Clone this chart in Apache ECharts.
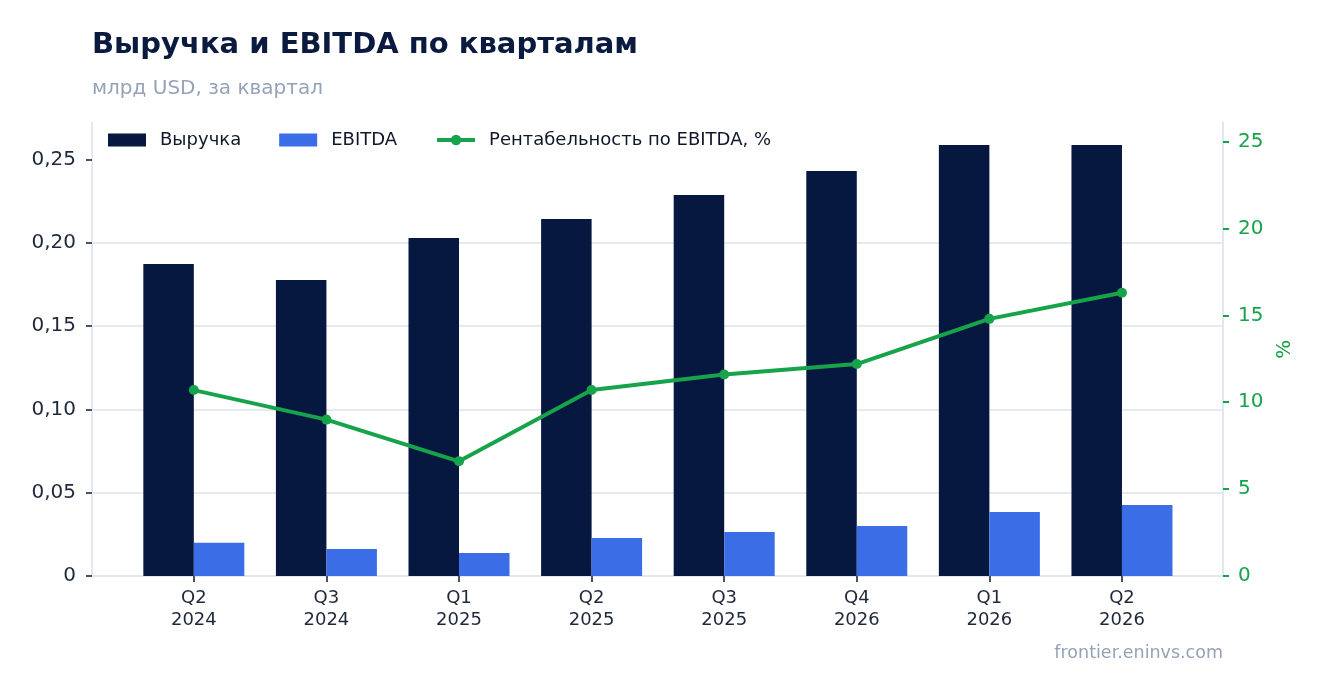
<!DOCTYPE html>
<html><head><meta charset="utf-8">
<script src="https://cdn.jsdelivr.net/npm/echarts@6/dist/echarts.min.js"></script>
<style>html,body{margin:0;padding:0;background:#fff}#c{width:1323px;height:693px}</style>
</head><body><div id="c"></div>
<script>
const categories = ['Q2\n2024','Q3\n2024','Q1\n2025','Q2\n2025','Q3\n2025','Q4\n2026','Q1\n2026','Q2\n2026'];
const revenue = [0.1873, 0.1777, 0.2029, 0.2143, 0.2287, 0.2431, 0.2587, 0.2587];
const ebitda = [0.0200, 0.0162, 0.0138, 0.0228, 0.0264, 0.0300, 0.0384, 0.0426];
const margin = [10.7, 9.0, 6.6, 10.7, 11.6, 12.2, 14.8, 16.3];
const leftTicks = [0, 0.05, 0.10, 0.15, 0.20, 0.25];
const rightTicks = [0, 5, 10, 15, 20, 25];

const FONT = 'DejaVu Sans';
const idx = categories.map((_, i) => i);
const pair = arr => arr.map((v, i) => [i, v]);
const chart = echarts.init(document.getElementById('c'), null, {renderer: 'canvas'});
chart.setOption({
  animation: false,
  textStyle: {fontFamily: FONT},
  title: {
    text: 'Выручка и EBITDA по кварталам',
    subtext: 'млрд USD, за квартал',
    left: 87, top: 26, itemGap: 19,
    textStyle: {fontFamily: FONT, fontSize: 29, fontWeight: 'bold', color: '#0b1a3f'},
    subtextStyle: {fontFamily: FONT, fontSize: 20, color: '#94a3b8'}
  },
  legend: {
    left: 103, top: 126, itemWidth: 38, itemHeight: 13, itemGap: 38,
    textStyle: {fontFamily: FONT, fontSize: 18, color: '#0f172a', padding: [0, 0, 0, 9]},
    data: [
      {name: 'Выручка', icon: 'rect'},
      {name: 'EBITDA', icon: 'rect'},
      {name: 'Рентабельность по EBITDA, %', lineStyle: {width: 4}}
    ]
  },
  grid: {left: 92, right: 100, top: 122.5, bottom: 117, containLabel: false},
  xAxis: {
    type: 'value', min: -0.768, max: 7.762,
    splitLine: {show: false},
    axisLine: {show: true, onZero: false, lineStyle: {color: '#e2e8f0', width: 2}},
    axisTick: {show: true, customValues: idx, length: 6, lineStyle: {color: '#475569', width: 2}},
    axisLabel: {customValues: idx, formatter: v => categories[Math.round(v)] || '',
      fontFamily: FONT, fontSize: 18, lineHeight: 22, color: '#1e293b', margin: 11}
  },
  yAxis: [{
    type: 'value', min: 0, max: 0.2722, interval: 0.05,
    axisLine: {show: true, onZero: false, lineStyle: {color: '#e2e8f0', width: 2}},
    axisTick: {show: true, customValues: leftTicks, length: 6, lineStyle: {color: '#475569', width: 2}},
    axisLabel: {customValues: leftTicks, fontFamily: FONT, fontSize: 20, color: '#1e293b', margin: 16,
      formatter: v => v === 0 ? '0' : v.toFixed(2).replace('.', ',')},
    splitLine: {show: true, showMaxLine: false, showMinLine: false, lineStyle: {color: '#e5e9f0', width: 2}}
  }, {
    type: 'value', min: 0, max: 26.1, interval: 5, position: 'right',
    name: '%', nameLocation: 'middle', nameGap: 50, nameRotate: 90,
    nameTextStyle: {fontFamily: FONT, fontSize: 20, color: '#16a34a'},
    axisLine: {show: true, onZero: false, lineStyle: {color: '#e2e8f0', width: 2}},
    axisTick: {show: true, customValues: rightTicks, length: 6, lineStyle: {color: '#16a34a', width: 2}},
    axisLabel: {customValues: rightTicks, fontFamily: FONT, fontSize: 20, color: '#16a34a', margin: 15},
    splitLine: {show: false}
  }],
  series: [{
    name: 'Выручка', type: 'bar', data: pair(revenue), barWidth: 50.5, barGap: '0%',
    itemStyle: {color: '#061740'}
  }, {
    name: 'EBITDA', type: 'bar', data: pair(ebitda), barWidth: 50.5, barGap: '0%',
    itemStyle: {color: '#3b6de6'}
  }, {
    name: 'Рентабельность по EBITDA, %', type: 'line', yAxisIndex: 1, data: pair(margin),
    symbol: 'circle', symbolSize: 10, z: 5,
    lineStyle: {color: '#16a34a', width: 4}, itemStyle: {color: '#16a34a'}
  }],
  graphic: [{
    type: 'text', right: 100, top: 644,
    style: {text: 'frontier.eninvs.com', fontFamily: FONT, fontSize: 17.5, fill: '#94a3b8'}
  }]
});
</script></body></html>
